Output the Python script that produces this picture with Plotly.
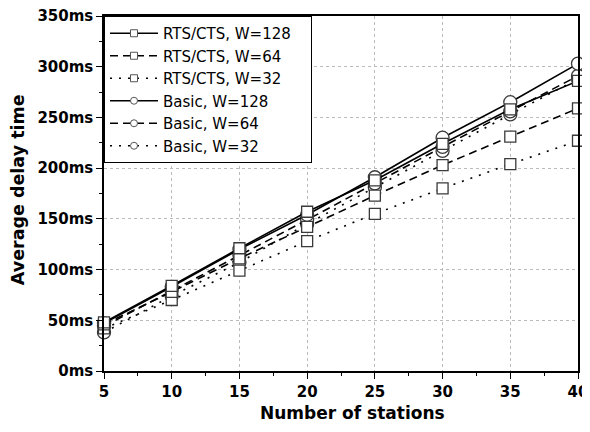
import plotly.graph_objects as go

stations = [5, 10, 15, 20, 25, 30, 35, 40]

rts_128 = [48, 84, 121, 157, 188, 224, 258, 286]
rts_64 = [46, 78, 111, 142, 173, 203, 231, 259]
rts_32 = [42, 70, 99, 128, 155, 180, 204, 227]
basic_128 = [47, 83, 120, 154, 191, 230, 265, 303]
basic_64 = [44, 79, 114, 149, 185, 221, 256, 291]
basic_32 = [38, 74, 107, 145, 181, 217, 253, 288]

series = [
    ("RTS/CTS, W=128", rts_128, "square", "solid"),
    ("RTS/CTS, W=64", rts_64, "square", "8px,5px"),
    ("RTS/CTS, W=32", rts_32, "square", "2px,7px"),
    ("Basic, W=128", basic_128, "circle", "solid"),
    ("Basic, W=64", basic_64, "circle", "8px,5px"),
    ("Basic, W=32", basic_32, "circle", "2px,7px"),
]

FONT = "DejaVu Sans, Arial, sans-serif"
fig = go.Figure()

for name, vals, sym, dash in reversed(series):
    fig.add_trace(go.Scatter(
        x=stations, y=vals, mode="lines+markers", name=name, showlegend=False,
        line=dict(color="black", width=1.6, dash=dash),
        marker=dict(symbol=sym, size=13 if sym == "circle" else 11, color="white",
                    line=dict(color="#3a3a3a", width=1.3)),
        cliponaxis=False,
    ))

for name, vals, sym, dash in series:
    fig.add_trace(go.Scatter(
        x=[None], y=[None], mode="lines+markers", name=name + "\u00a0\u00a0\u00a0",
        showlegend=True,
        line=dict(color="black", width=1.6, dash=dash),
        marker=dict(symbol=sym, size=7, color="white",
                    line=dict(color="#555555", width=1)),
    ))

axis_common = dict(
    showline=True, linecolor="black", linewidth=1.5, mirror=True,
    ticks="outside", ticklen=6, tickwidth=1.3, tickcolor="black",
    showgrid=True, gridcolor="#bbbbbb", griddash="dot", gridwidth=1,
    zeroline=False, automargin=False, ticklabeloverflow="allow",
    tickfont=dict(family=FONT, size=15, color="black", weight="bold"),
)

fig.update_xaxes(
    range=[5, 40], tickmode="linear", tick0=5, dtick=5,
    minor=dict(ticks="outside", ticklen=3, tickwidth=1.2, tickcolor="black", dtick=2.5, showgrid=False),
    **axis_common,
)
fig.update_yaxes(
    range=[0, 350], tickmode="linear", tick0=0, dtick=50, ticksuffix="ms",
    minor=dict(ticks="outside", ticklen=3, tickwidth=1.2, tickcolor="black", dtick=25, showgrid=False),
    **axis_common,
)

fig.add_annotation(
    text="<b>Number of stations</b>", xref="paper", yref="paper",
    x=0.525, y=-0.118, xanchor="center", yanchor="middle", showarrow=False,
    font=dict(family=FONT, size=17, color="black"),
)
fig.add_annotation(
    text="<b>Average delay time</b>", xref="paper", yref="paper",
    x=-0.181, y=0.51, xanchor="center", yanchor="middle", showarrow=False, textangle=-90,
    font=dict(family=FONT, size=17.5, color="black"),
)

# the page body adds an 8px margin, so the figure is sized to fill the rest
fig.update_layout(
    width=582, height=424,
    margin=dict(l=96, r=12, t=8, b=61),
    paper_bgcolor="white", plot_bgcolor="white",
    legend=dict(
        x=0, y=1, xanchor="left", yanchor="top",
        bgcolor="white", bordercolor="black", borderwidth=1,
        font=dict(family=FONT, size=15, color="black"),
        itemwidth=48, tracegroupgap=0,
    ),
)

fig.write_html("out.html")
